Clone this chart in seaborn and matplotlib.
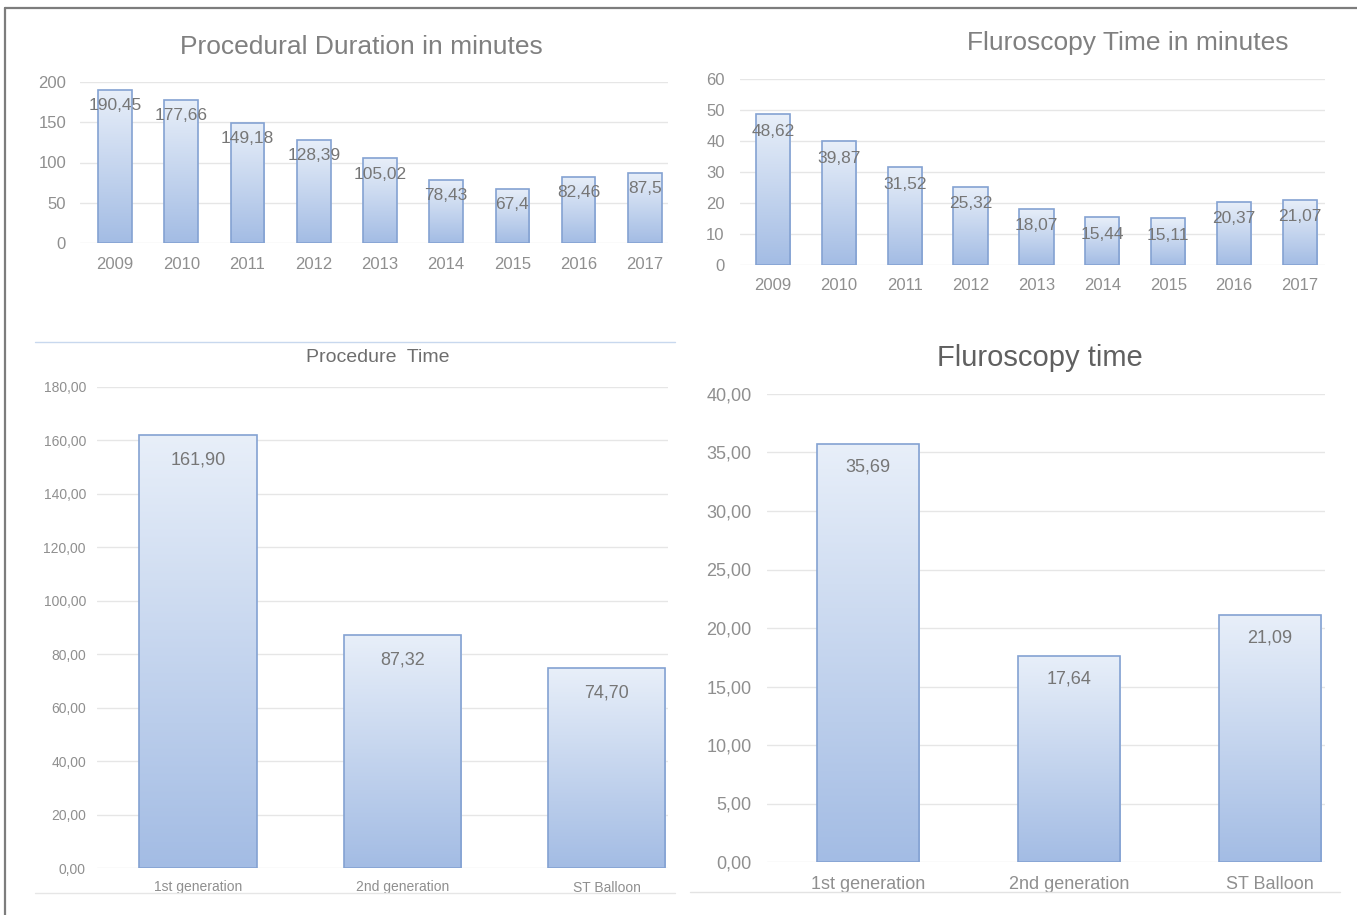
import numpy as np
import pandas as pd
import matplotlib
matplotlib.use("Agg")
import matplotlib.pyplot as plt
from matplotlib.colors import LinearSegmentedColormap
from matplotlib.lines import Line2D
import seaborn as sns

# ---- data -------------------------------------------------------------
years = ["2009", "2010", "2011", "2012", "2013", "2014", "2015", "2016", "2017"]
procedural_duration = [190.45, 177.66, 149.18, 128.39, 105.02, 78.43, 67.4, 82.46, 87.5]
fluoroscopy_by_year = [48.62, 39.87, 31.52, 25.32, 18.07, 15.44, 15.11, 20.37, 21.07]

generations = ["1st generation", "2nd generation", "ST Balloon"]
procedure_time = [161.90, 87.32, 74.70]
fluoroscopy_time = [35.69, 17.64, 21.09]

# ---- figure -----------------------------------------------------------
W, H = 1357, 915
sns.set_theme(style="white")
plt.rcParams["font.family"] = ["Liberation Sans", "DejaVu Sans"]

fig = plt.figure(figsize=(W / 100, H / 100), dpi=100)
fig.patch.set_facecolor("white")

bar_cmap = LinearSegmentedColormap.from_list("bar_fill", ["#a3bce4", "#e8eff9"])
TICK_COLOR = "#8f8f8f"
LABEL_COLOR = "#767676"


def px_axes(left, top, right, bottom):
    return fig.add_axes([left / W, 1 - bottom / H, (right - left) / W, (bottom - top) / H])


def comma_general(v):
    return f"{v:g}".replace(".", ",")


def comma_2dp(v):
    return f"{v:.2f}".replace(".", ",")


def draw_panel(rect, cats, vals, width, xlim, ylim, yticks, ytick_fmt, label_fmt,
               tick_size, label_size, ypad, xpad, label_drop):
    ax = px_axes(*rect)
    df = pd.DataFrame({"cat": cats, "val": vals})
    sns.barplot(data=df, x="cat", y="val", ax=ax, width=width, color="#c5d5ef",
                saturation=1, edgecolor="#84a2d2", linewidth=1.2, zorder=3)

    # vertical gradient fill inside every bar
    grad = np.linspace(0, 1, 256).reshape(-1, 1)
    for bar in ax.patches:
        x0, y0 = bar.get_x(), bar.get_y()
        w, h = bar.get_width(), bar.get_height()
        im = ax.imshow(grad, cmap=bar_cmap, origin="lower", aspect="auto",
                       extent=(x0, x0 + w, y0, y0 + h), zorder=2.5)
        im.set_clip_path(bar)
        bar.set_facecolor("none")

    ax.set_xlim(*xlim)
    ax.set_ylim(*ylim)
    ax.set_yticks(yticks)
    ax.set_yticklabels([ytick_fmt(t) for t in yticks])
    ax.set_xlabel("")
    ax.set_ylabel("")
    for s in ax.spines.values():
        s.set_visible(False)
    ax.yaxis.grid(True, color="#e6e6e6", linewidth=1.0)
    ax.set_axisbelow(True)
    ax.tick_params(axis="both", length=0, colors=TICK_COLOR, labelsize=tick_size)
    ax.tick_params(axis="y", pad=ypad)
    ax.tick_params(axis="x", pad=xpad)

    for bar, v in zip(ax.patches, vals):
        ax.annotate(label_fmt(v), xy=(bar.get_x() + bar.get_width() / 2, v),
                    xytext=(0, -label_drop * 0.72), textcoords="offset points",
                    ha="center", va="center", fontsize=label_size,
                    color=LABEL_COLOR, zorder=5)
    return ax


# top left: procedural duration per year
draw_panel((80, 82, 668, 243), years, procedural_duration, 0.51,
           (-0.53, 8.35), (0, 200), [0, 50, 100, 150, 200], lambda t: f"{t:g}",
           comma_general, 12, 12.5, 10, 10, 16)

# top right: fluoroscopy time per year
draw_panel((740, 79, 1325, 265), years, fluoroscopy_by_year, 0.52,
           (-0.5, 8.38), (0, 60), [0, 10, 20, 30, 40, 50, 60], lambda t: f"{t:g}",
           comma_general, 12, 12.5, 11, 9, 17)

# bottom left: procedure time per balloon generation
draw_panel((97, 387, 668, 868), generations, procedure_time, 0.574,
           (-0.495, 2.30), (0, 180), list(range(0, 181, 20)), comma_2dp,
           comma_2dp, 10, 13, 8, 9, 25)

# bottom right: fluoroscopy time per balloon generation
draw_panel((767, 394, 1325, 862), generations, fluoroscopy_time, 0.51,
           (-0.502, 2.275), (0, 40), list(range(0, 41, 5)), comma_2dp,
           comma_2dp, 13, 13, 11, 10, 23)

# ---- titles -----------------------------------------------------------
def title_at(x, y, text, size, color):
    fig.text(x / W, 1 - y / H, text, ha="center", va="center",
             fontsize=size, color=color)


title_at(361, 47, "Procedural Duration in minutes", 19, "#808080")
title_at(1128, 43, "Fluroscopy Time in minutes", 19, "#808080")
title_at(378, 357, "Procedure  Time", 14, "#6e6e6e")
title_at(1040, 358, "Fluroscopy time", 21, "#606060")

# ---- frame and panel separators --------------------------------------
def hline(x0, x1, y, color, lw):
    fig.add_artist(Line2D([x0 / W, x1 / W], [1 - y / H, 1 - y / H], color=color, lw=lw))


hline(5, W, 8, "#7d7d7d", 1.6)
fig.add_artist(Line2D([5 / W, 5 / W], [0, 1 - 8 / H], color="#7d7d7d", lw=1.6))
hline(35, 675, 342, "#c8d8ee", 1.0)
hline(35, 675, 893, "#e6e6e6", 1.0)
hline(690, 1340, 892, "#e3e3e3", 1.0)

fig.savefig("out.png", dpi=100, facecolor="white")
